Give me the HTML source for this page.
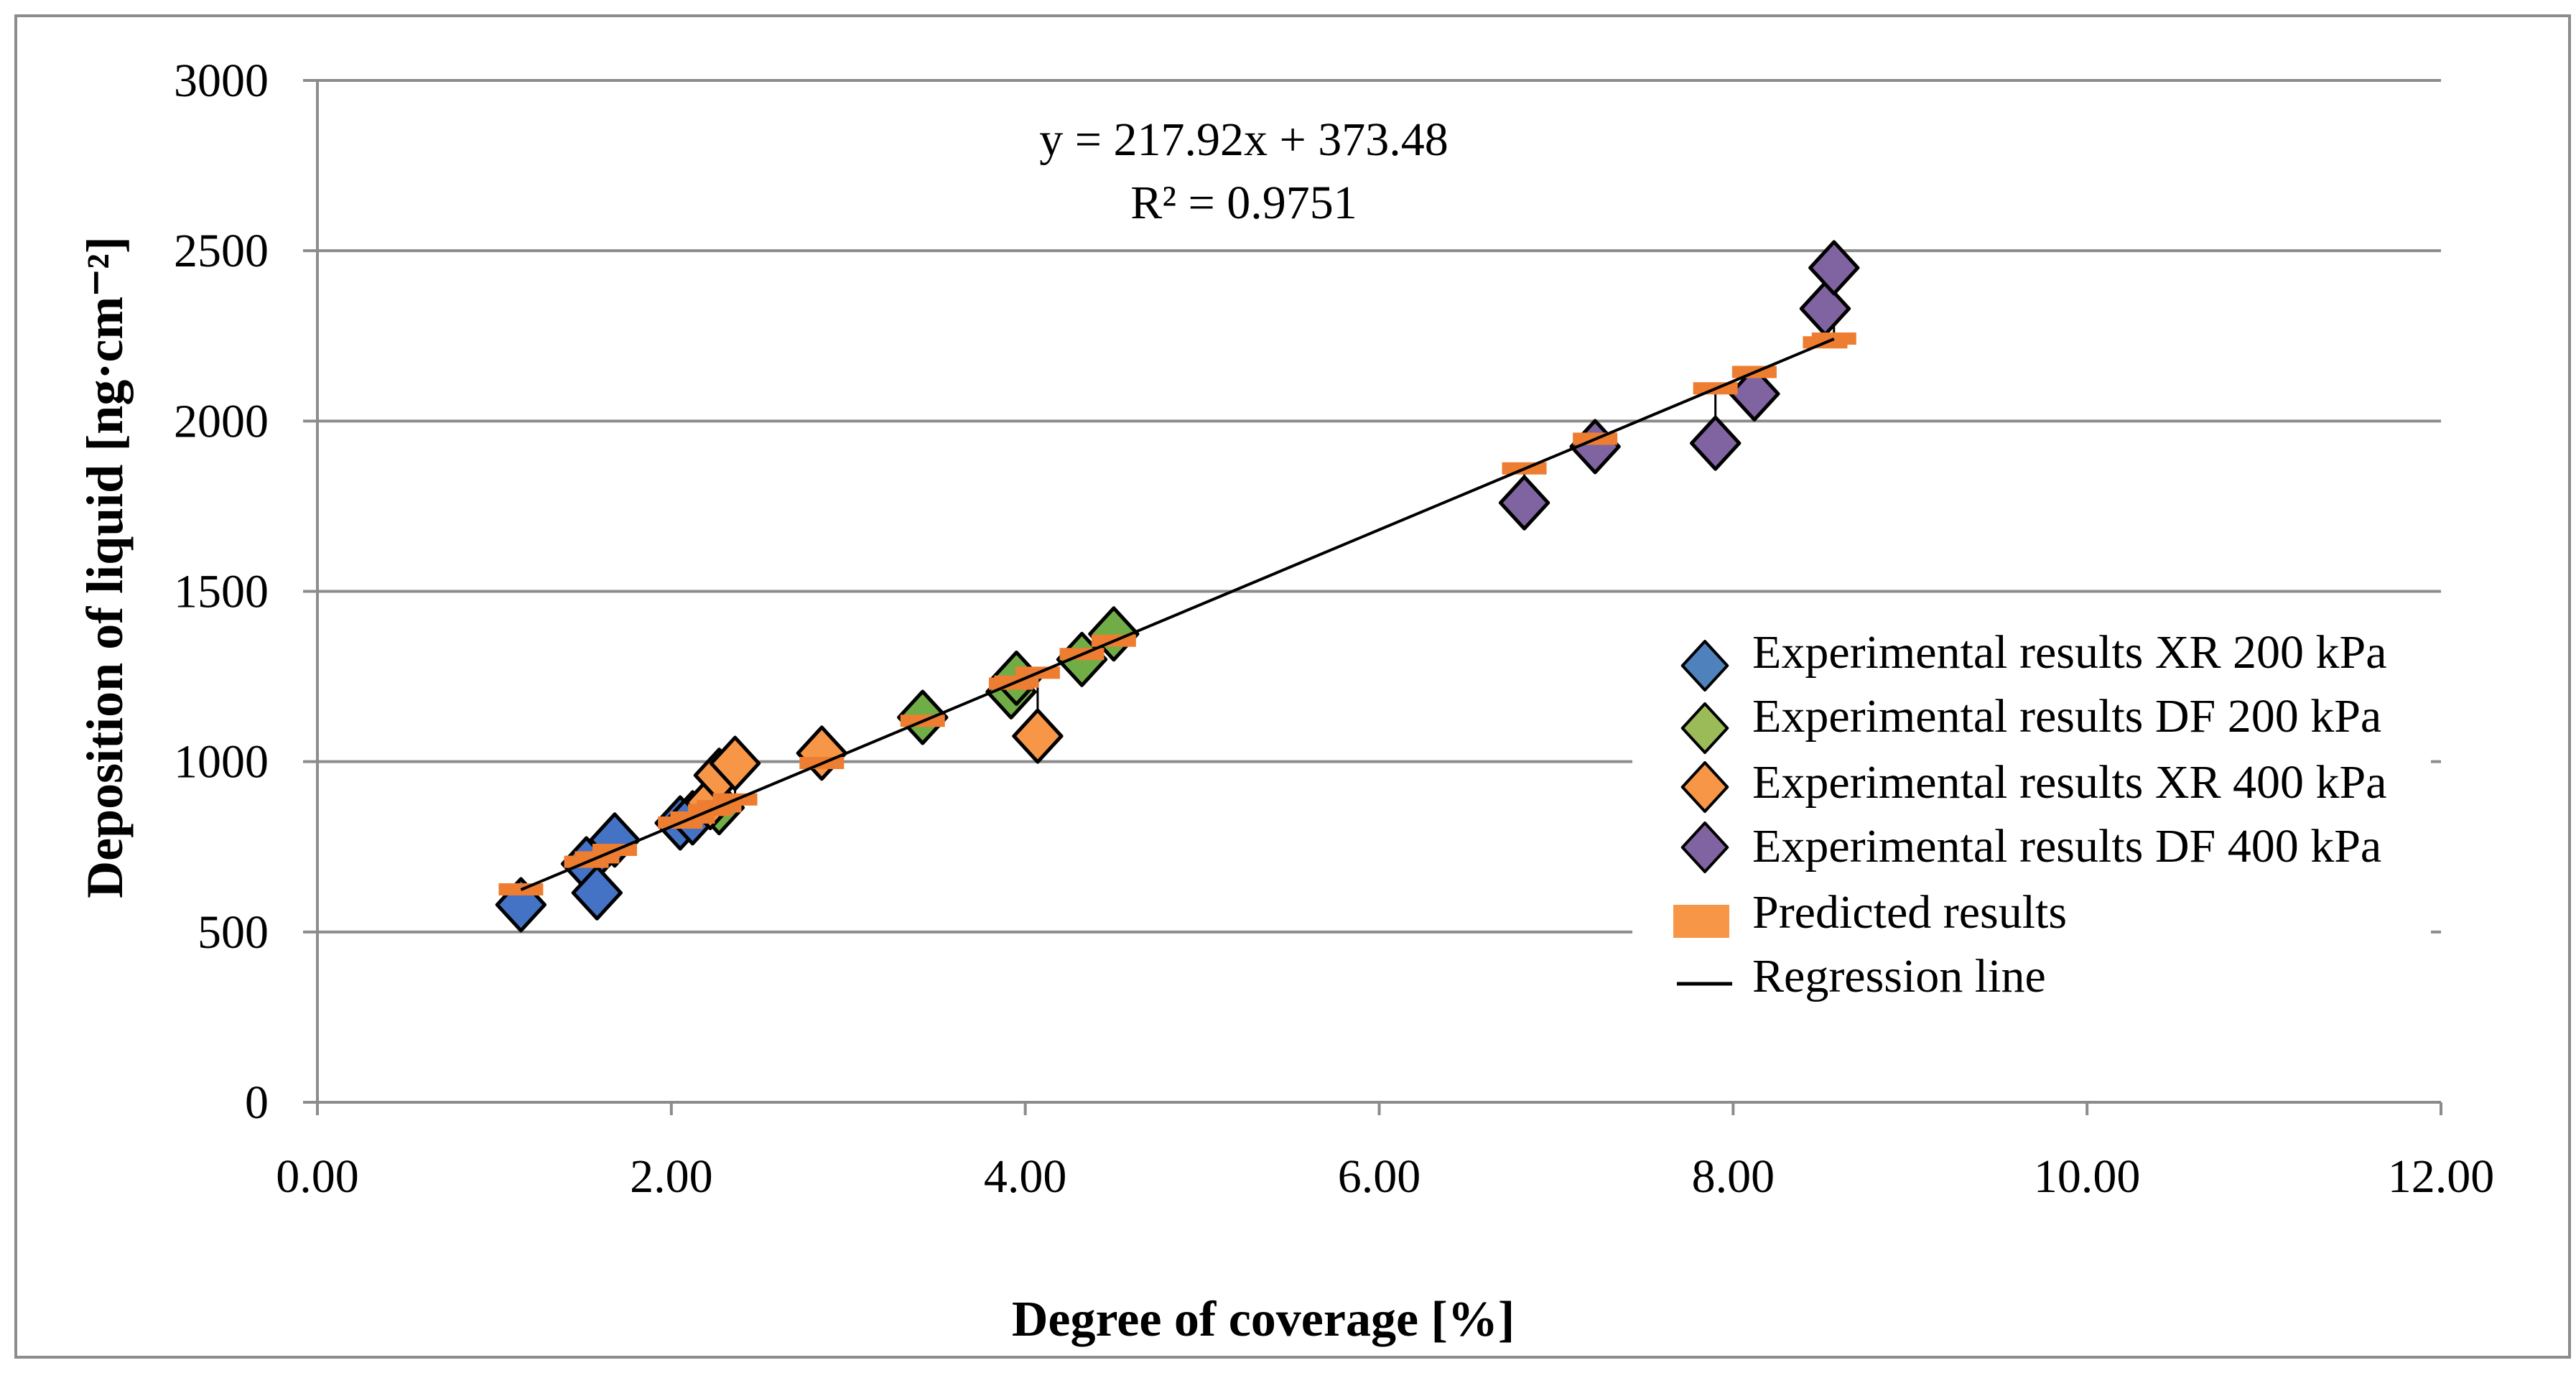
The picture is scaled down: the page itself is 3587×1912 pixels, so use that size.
<!DOCTYPE html>
<html><head><meta charset="utf-8"><style>
html,body{margin:0;padding:0;background:#fff;}
svg{display:block;}
text{font-family:"Liberation Serif",serif;fill:#000;}
</style></head><body>
<svg id="chart" width="3587" height="1912" viewBox="0 0 3587 1912" xmlns="http://www.w3.org/2000/svg">
<rect x="22" y="22" width="3556" height="1868" fill="#fff" stroke="#8c8c8c" stroke-width="4"/>
<g id="grid"></g>
<g id="axes"></g>
<g id="series"></g>
<text x="1732" y="216" font-size="66" text-anchor="middle">y = 217.92x + 373.48</text>
<text x="1732" y="304" font-size="66" text-anchor="middle">R² = 0.9751</text>
<text x="1759" y="1860" font-size="70" font-weight="bold" text-anchor="middle">Degree of coverage [%]</text>
<text transform="translate(146,790) rotate(-90)" font-size="72" font-weight="bold" text-anchor="middle" dominant-baseline="central">Deposition of liquid [ng·cm⁻²]</text>
<g id="legend"></g>
</svg>
<script>
const xTicks = [0, 2, 4, 6, 8, 10, 12];
const xTickLabels = ["0.00", "2.00", "4.00", "6.00", "8.00", "10.00", "12.00"];
const yTicks = [0, 500, 1000, 1500, 2000, 2500, 3000];
const yTickLabels = ["0", "500", "1000", "1500", "2000", "2500", "3000"];
const xrX = [1.15, 1.52, 1.58, 1.68, 2.05, 2.12];
const xrY = [580, 700, 615, 770, 820, 835];
const df2X = [2.27, 3.42, 3.92, 3.95, 4.32, 4.50];
const df2Y = [865, 1130, 1205, 1245, 1300, 1375];
const xr4X = [2.22, 2.27, 2.36, 2.85, 4.07];
const xr4Y = [880, 960, 995, 1025, 1075];
const df4X = [6.82, 7.22, 7.90, 8.12, 8.52, 8.57];
const df4Y = [1760, 1925, 1935, 2080, 2330, 2450];
const predX = [1.15, 1.52, 1.58, 1.68, 2.05, 2.12, 2.27, 3.42, 3.92, 3.95, 4.32, 4.50, 2.22, 2.27, 2.36, 2.85, 4.07, 6.82, 7.22, 7.90, 8.12, 8.52, 8.57];
const predY = [624, 705, 718, 740, 820, 835, 868, 1119, 1228, 1234, 1315, 1354, 857, 868, 888, 995, 1260, 1860, 1947, 2095, 2143, 2230, 2241];
const regX = [1.15, 8.57];
const regY = [624, 2241];
const legendLabels = ["Experimental results XR 200 kPa","Experimental results DF 200 kPa","Experimental results XR 400 kPa","Experimental results DF 400 kPa","Predicted results","Regression line"];

const NS = "http://www.w3.org/2000/svg";
const L = 442, R = 3399, T = 112, B = 1535;
const sx = v => L + (v - 0) / 12 * (R - L);
const sy = v => B - v / 3000 * (B - T);
function mk(tag, attrs, parent) {
  const e = document.createElementNS(NS, tag);
  for (const k in attrs) e.setAttribute(k, attrs[k]);
  parent.appendChild(e);
  return e;
}
const grid = document.getElementById('grid');
const axes = document.getElementById('axes');
const series = document.getElementById('series');
const legend = document.getElementById('legend');

yTicks.forEach((t, i) => {
  if (t > 0) {
    const g = mk('line', {x1: L - 20, x2: R, y1: sy(t), y2: sy(t), stroke: '#8c8c8c', 'stroke-width': 4}, grid);
    
    
  }
  const lb = mk('text', {x: 374, y: sy(t) + 22, 'font-size': 66, 'text-anchor': 'end'}, axes);
  lb.textContent = yTickLabels[i];
  
  
});
const ya = mk('line', {x1: L, x2: L, y1: T, y2: B, stroke: '#8c8c8c', 'stroke-width': 4}, axes);


const xa = mk('line', {x1: L - 20, x2: R, y1: B, y2: B, stroke: '#8c8c8c', 'stroke-width': 4}, axes);


xTicks.forEach((t, i) => {
  const tk = mk('line', {x1: sx(t), x2: sx(t), y1: B, y2: B + 18, stroke: '#8c8c8c', 'stroke-width': 4}, axes);
  
  
  const lb = mk('text', {x: sx(t), y: 1660, 'font-size': 66, 'text-anchor': 'middle'}, axes);
  lb.textContent = xTickLabels[i];
  
  
});

const allY = [].concat(xrY, df2Y, xr4Y, df4Y);
const expOrderX = [].concat(xrX, df2X, xr4X, df4X);
expOrderX.forEach((x, i) => {
  const dl = mk('line', {x1: sx(x), x2: sx(x), y1: sy(allY[i]), y2: sy(predY[i]), stroke: '#000', 'stroke-width': 3}, series);
  
  
});

function diamond(cx, cy, r, fill, parent, sw) {
  return mk('polygon', {points: `${cx},${cy - r} ${cx + r * 0.92},${cy} ${cx},${cy + r} ${cx - r * 0.92},${cy}`, fill: fill, stroke: '#000', 'stroke-width': sw, 'stroke-linejoin': 'round'}, parent);
}
const groups = [
  [xrX, xrY, '#4472C4', 'xr-200'],
  [df2X, df2Y, '#70AD47', 'df-200'],
  [xr4X, xr4Y, '#F79646', 'xr-400'],
  [df4X, df4Y, '#8064A2', 'df-400']
];
groups.forEach(([xs, ys, c, nm]) => {
  xs.forEach((x, i) => {
    const d = diamond(sx(x), sy(ys[i]), 36, c, series, 5);
    
    
  });
});
predX.forEach((x, i) => {
  const p = mk('rect', {x: sx(x) - 31, y: sy(predY[i]) - 9, width: 62, height: 17, fill: '#ED7D31'}, series);
  
  
});
const rl = mk('line', {x1: sx(regX[0]), y1: sy(regY[0]), x2: sx(regX[1]), y2: sy(regY[1]), stroke: '#000', 'stroke-width': 4}, series);



const bg = mk('rect', {x: 2273, y: 855, width: 1112, height: 545, fill: '#fff'}, legend);


const markerY = [927, 1014, 1096, 1180, 1283, 1360];
const textY = [908, 997, 1089, 1178, 1270, 1359];
const legColors = ['#4F81BD', '#9BBB59', '#F79646', '#8064A2'];
legendLabels.forEach((lab, i) => {
  const cy = markerY[i];
  let m;
  if (i < 4) m = diamond(2374, cy, 34, legColors[i], legend, 4);
  else if (i === 4) m = mk('rect', {x: 2330, y: cy - 23, width: 78, height: 46, fill: '#F79646'}, legend);
  else m = mk('line', {x1: 2335, x2: 2412, y1: cy + 10, y2: cy + 10, stroke: '#000', 'stroke-width': 5}, legend);
  
  
  const t = mk('text', {x: 2440, y: textY[i] + 22, 'font-size': 66}, legend);
  t.textContent = lab;
  
  
});
</script>
</body></html>
